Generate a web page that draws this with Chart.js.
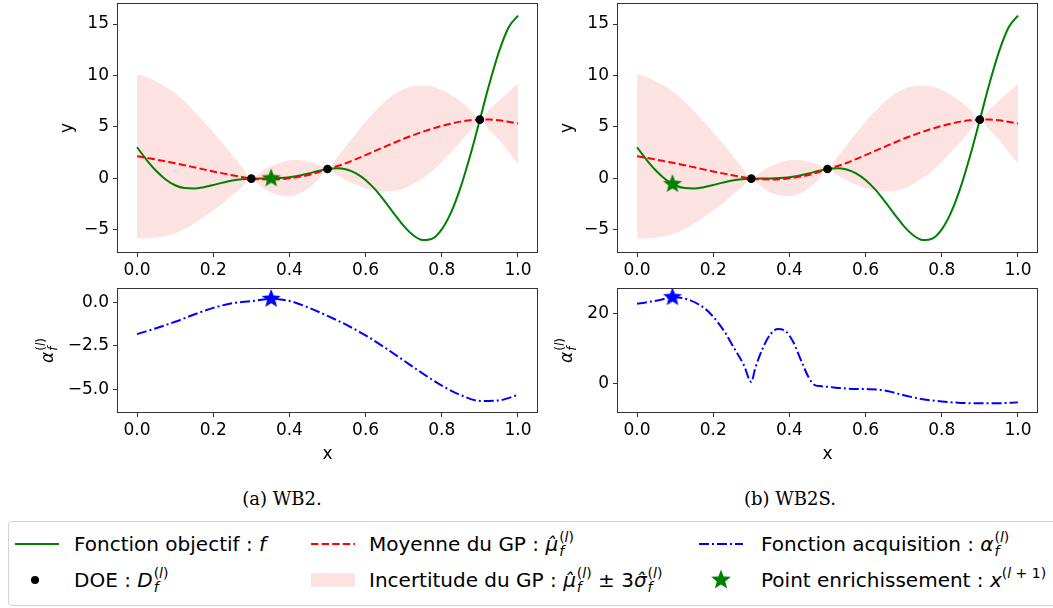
<!DOCTYPE html>
<html>
<head>
<meta charset="utf-8">
<script src="https://cdn.jsdelivr.net/npm/chart.js@4.4.1/dist/chart.umd.min.js"></script>
<style>
body { margin:0; width:1053px; height:608px; background:#fff; position:relative; overflow:hidden; font-family:"DejaVu Sans"; }
canvas { position:absolute; }
.cap { position:absolute; top:490px; font-family:"DejaVu Serif"; font-size:18px; line-height:1; transform:translateX(-50%); white-space:nowrap; }
#legendBox { position:absolute; left:8px; top:521px; width:1070px; height:85px; border:1px solid #d3d3d3; border-radius:4px; box-sizing:border-box; }
.it { position:absolute; font-size:20px; line-height:20px; white-space:nowrap; }
.smp { position:absolute; }
.ss { display:inline-block; font-size:14px; line-height:14px; vertical-align:-5px; margin-left:1px; margin-top:-14px; }
.ss > span { display:block; }
.sp { font-size:14px; position:relative; top:-9px; }
</style>
</head>
<body>
<canvas id="tl" width="545" height="285" style="left:0;top:0"></canvas>
<canvas id="tr" width="545" height="285" style="left:500px;top:0"></canvas>
<canvas id="bl" width="545" height="185" style="left:0;top:285px"></canvas>
<canvas id="br" width="545" height="185" style="left:500px;top:285px"></canvas>

<div class="cap" style="left:282px">(a) WB2.</div>
<div class="cap" style="left:790px">(b) WB2S.</div>

<div id="legendBox"></div>
<svg class="smp" style="left:15px;top:536px" width="44" height="16"><line x1="0" y1="8" x2="44" y2="8" stroke="#008000" stroke-width="2"/></svg>
<div class="it" style="left:74px;top:534px">Fonction objectif : <i>f</i></div>
<svg class="smp" style="left:15px;top:572px" width="44" height="16"><circle cx="20" cy="8" r="4" fill="#000"/></svg>
<div class="it" style="left:74px;top:570px">DOE : <i>D</i><span class="ss"><span>(<i>l</i>)</span><span><i>f</i></span></span></div>

<svg class="smp" style="left:311px;top:536px" width="44" height="16"><line x1="0" y1="8" x2="44" y2="8" stroke="#ff0000" stroke-width="2" stroke-dasharray="7.4 3.2"/></svg>
<div class="it" style="left:369px;top:534px">Moyenne du GP : <i>μ̂</i><span class="ss"><span>(<i>l</i>)</span><span><i>f</i></span></span></div>
<svg class="smp" style="left:311px;top:572px" width="44" height="16"><rect x="0" y="1" width="44" height="14" fill="#fde2e2"/></svg>
<div class="it" style="left:369px;top:570px">Incertitude du GP : <i>μ̂</i><span class="ss"><span>(<i>l</i>)</span><span><i>f</i></span></span> ± 3<i>σ̂</i><span class="ss"><span>(<i>l</i>)</span><span><i>f</i></span></span></div>

<svg class="smp" style="left:699px;top:536px" width="44" height="16"><line x1="0" y1="8" x2="44" y2="8" stroke="#0000ff" stroke-width="2" stroke-dasharray="10 3 2 3"/></svg>
<div class="it" style="left:761px;top:534px">Fonction acquisition : <i>α</i><span class="ss"><span>(<i>l</i>)</span><span><i>f</i></span></span></div>
<svg class="smp" style="left:710px;top:569px" width="22" height="22"><polygon fill="#008000" points="11,0.5 13.6,7.4 20.9,7.8 15.2,12.4 17.2,19.5 11,15.4 4.8,19.5 6.8,12.4 1.1,7.8 8.4,7.4"/></svg>
<div class="it" style="left:761px;top:570px">Point enrichissement : <i>x</i><span class="sp">(<i>l</i> + 1)</span></div>

<script>
// abscisses communes
var xGrid = [0, 0.025, 0.05, 0.075, 0.1, 0.125, 0.15, 0.175, 0.2, 0.225, 0.25, 0.275, 0.3, 0.325, 0.35, 0.375, 0.4,
    0.425, 0.45, 0.475, 0.5, 0.525, 0.55, 0.575, 0.6, 0.625, 0.65, 0.675, 0.7, 0.725, 0.75, 0.775, 0.8, 0.825,
    0.85, 0.875, 0.9, 0.925, 0.95, 0.975, 1.0];

// fonction objectif f
var fVals = [3.03, 1.81, 0.74, -0.10, -0.66, -0.94, -0.98, -0.85, -0.64, -0.41, -0.21, -0.08, -0.02, 0.0, 0.0, 0.03,
    0.12, 0.27, 0.48, 0.72, 0.91, 0.99, 0.87, 0.50, -0.15, -1.07, -2.21, -3.44, -4.61, -5.52, -5.99, -5.85, -4.95,
    -3.25, -0.80, 2.27, 5.71, 9.19, 12.30, 14.65, 15.83];

// moyenne du GP
var meanVals = [2.15, 2.0, 1.83, 1.65, 1.47, 1.28, 1.08, 0.88, 0.68, 0.49, 0.31, 0.14, -0.02, -0.08, -0.1, -0.07,
    0.02, 0.15, 0.33, 0.6, 0.91, 1.18, 1.5, 1.88, 2.27, 2.67, 3.07, 3.47, 3.85, 4.2, 4.53, 4.83, 5.1, 5.33, 5.52,
    5.65, 5.71, 5.72, 5.65, 5.5, 5.33];

// bornes de l'incertitude (+/- 3 sigma)
var upperVals = [10.15, 9.85, 9.43, 8.9, 8.27, 7.48, 6.53, 5.53, 4.48, 3.39, 2.26, 1.12, -0.02, 0.62, 1.15, 1.53,
    1.77, 1.8, 1.63, 1.35, 0.91, 2.03, 3.2, 4.38, 5.52, 6.52, 7.42, 8.17, 8.7, 8.95, 9.03, 8.93, 8.6, 8.08, 7.47,
    6.65, 5.71, 6.7, 7.55, 8.4, 9.2];
var lowerVals = [-5.85, -5.85, -5.77, -5.6, -5.33, -4.92, -4.37, -3.77, -3.12, -2.41, -1.64, -0.84, -0.02, -0.78,
    -1.35, -1.67, -1.73, -1.5, -0.97, -0.15, 0.91, 0.33, -0.2, -0.62, -0.98, -1.18, -1.28, -1.23, -1.0, -0.55, 0.03,
    0.73, 1.6, 2.58, 3.57, 4.65, 5.71, 4.74, 3.75, 2.6, 1.45];

// DOE
var doeX = [0.3, 0.5, 0.9];
var doeY = [-0.02, 0.91, 5.71];

// acquisition WB2
var acqX = [0, 0.05, 0.1, 0.15, 0.2, 0.25, 0.3, 0.35, 0.4, 0.45, 0.5, 0.55, 0.6, 0.65, 0.7, 0.75, 0.8, 0.85, 0.9, 0.95, 1.0];
var acqWB2 = [-1.83, -1.49, -1.12, -0.7, -0.32, -0.05, 0.07, 0.2, 0.08, -0.3, -0.78, -1.3, -1.9, -2.6, -3.35, -4.1,
    -4.8, -5.35, -5.68, -5.65, -5.34];

// acquisition WB2S
var acqSX = [0, 0.03, 0.06, 0.094, 0.14, 0.18, 0.2, 0.23, 0.255, 0.28, 0.3, 0.31, 0.33, 0.35, 0.37, 0.39, 0.41,
    0.43, 0.45, 0.465, 0.48, 0.5, 0.55, 0.6, 0.63, 0.66, 0.7, 0.75, 0.8, 0.85, 0.9, 0.95, 1.0];
var acqWB2S = [22.7, 23.2, 23.8, 24.6, 23.7, 21.2, 19.0, 14.7, 10.0, 5.3, 0.4, 4.2, 10.0, 14.0, 15.5, 14.9, 11.8,
    6.7, 1.8, -0.4, -0.8, -1.0, -1.5, -1.65, -1.75, -2.3, -3.4, -4.55, -5.2, -5.6, -5.72, -5.7, -5.45];

// points d'enrichissement
var starWB2 = { x: 0.352, y: 0.0, acq: 0.2 };
var starWB2S = { x: 0.093, y: -0.55, acq: 24.6 };

// ticks
var xTicks = [0, 0.2, 0.4, 0.6, 0.8, 1.0];
var yTicksTop = [-5, 0, 5, 10, 15];
var yTicksWB2 = [-5, -2.5, 0];
var yTicksWB2S = [0, 20];

function pts(xs, ys) {
    return xs.map(function (x, i) { return { x: x, y: ys[i] }; });
}

function makeStar(color, r) {
    var c = document.createElement('canvas');
    c.width = c.height = Math.ceil(r * 2) + 2;
    var g = c.getContext('2d'), m = c.width / 2, ri = r * 0.43;
    g.beginPath();
    for (var i = 0; i < 10; i++) {
        var rr = i % 2 ? ri : r;
        var a = -Math.PI / 2 + i * Math.PI / 5;
        g.lineTo(m + rr * Math.cos(a), m + rr * Math.sin(a));
    }
    g.closePath();
    g.fillStyle = color;
    g.fill();
    return c;
}

function minus(s) { return String(s).replace('-', '\u2212'); }

var TICK_FONT = { family: 'DejaVu Sans', size: 17 };

// cadre + titres des axes
var framePlugin = {
    id: 'frame',
    afterDraw: function (chart, args, opts) {
        var ctx = chart.ctx, a = chart.chartArea;
        ctx.save();
        ctx.strokeStyle = '#333';
        ctx.lineWidth = 1;
        ctx.strokeRect(Math.round(a.left) - 0.5, Math.round(a.top) - 0.5, Math.round(a.right - a.left) + 1, Math.round(a.bottom - a.top) + 1);
        ctx.fillStyle = '#000';
        ctx.textBaseline = 'alphabetic';
        if (opts.xLabel) {
            ctx.font = '17px "DejaVu Sans"';
            ctx.textAlign = 'center';
            ctx.fillText(opts.xLabel, (a.left + a.right) / 2, a.bottom + 47);
        }
        ctx.translate(a.left - opts.yDx, (a.top + a.bottom) / 2);
        ctx.rotate(-Math.PI / 2);
        ctx.textAlign = 'left';
        if (opts.yLabel === 'alpha') {
            ctx.font = 'italic 17px "DejaVu Sans"';
            var wA = ctx.measureText('α').width;
            ctx.font = '12px "DejaVu Sans"';
            var wP = ctx.measureText('(').width;
            ctx.font = 'italic 12px "DejaVu Sans"';
            var wL = ctx.measureText('l').width;
            var x0 = -(wA + 2 * wP + wL + 1) / 2;
            ctx.font = 'italic 17px "DejaVu Sans"';
            ctx.fillText('α', x0, 0);
            ctx.font = 'italic 12px "DejaVu Sans"';
            ctx.fillText('f', x0 + wA + 1, 4);
            ctx.fillText('l', x0 + wA + 1 + wP, -8);
            ctx.font = '12px "DejaVu Sans"';
            ctx.fillText('(', x0 + wA + 1, -8);
            ctx.fillText(')', x0 + wA + 1 + wP + wL, -8);
        } else {
            ctx.font = '17px "DejaVu Sans"';
            ctx.textAlign = 'center';
            ctx.fillText(opts.yLabel, 0, 0);
        }
        ctx.restore();
    }
};

function xScale(h) {
    return {
        type: 'linear', min: -0.05, max: 1.05,
        afterBuildTicks: function (s) { s.ticks = xTicks.map(function (v) { return { value: v }; }); },
        afterFit: function (s) { s.height = h; s.paddingLeft = 0; s.paddingRight = 0; },
        grid: { drawOnChartArea: false, drawTicks: true, tickLength: 5, color: '#333', lineWidth: 1 },
        border: { display: false },
        ticks: { font: TICK_FONT, color: '#000', padding: 3, maxRotation: 0, autoSkip: false,
            callback: function (v) { return v.toFixed(1); } }
    };
}

function yScale(min, max, ticks, fmt) {
    return {
        type: 'linear', min: min, max: max,
        afterBuildTicks: function (s) { s.ticks = ticks.map(function (v) { return { value: v }; }); },
        afterFit: function (s) { s.width = 118; s.paddingTop = 0; s.paddingBottom = 0; },
        grid: { drawOnChartArea: false, drawTicks: true, tickLength: 5, color: '#333', lineWidth: 1 },
        border: { display: false },
        ticks: { font: TICK_FONT, color: '#000', padding: 4, autoSkip: false, callback: fmt }
    };
}

function baseOptions(xh, ys, frame) {
    return {
        responsive: false, animation: false, events: [],
        layout: { padding: { left: 0, right: 8, top: 4, bottom: 0 }, autoPadding: false },
        scales: { x: xScale(xh), y: ys },
        plugins: { legend: { display: false }, tooltip: { enabled: false }, frame: frame }
    };
}

function topChart(id, star) {
    new Chart(document.getElementById(id), {
        type: 'line',
        data: {
            datasets: [
                { data: [{ x: star.x, y: star.y }], showLine: false, pointStyle: makeStar('#008000', 10), pointRadius: 10 },
                { data: pts(doeX, doeY), showLine: false, pointRadius: 4.3, pointBackgroundColor: '#000', pointBorderWidth: 0 },
                { data: pts(xGrid, meanVals), borderColor: '#ff0000', borderWidth: 2, borderDash: [7.4, 3.2], pointRadius: 0, cubicInterpolationMode: 'monotone' },
                { data: pts(xGrid, fVals), borderColor: '#008000', borderWidth: 2, pointRadius: 0, cubicInterpolationMode: 'monotone' },
                { data: pts(xGrid, upperVals), borderWidth: 0, borderColor: 'rgba(0,0,0,0)', pointRadius: 0, fill: '+1', backgroundColor: '#fde2e2', cubicInterpolationMode: 'monotone' },
                { data: pts(xGrid, lowerVals), borderWidth: 0, borderColor: 'rgba(0,0,0,0)', pointRadius: 0, fill: false, cubicInterpolationMode: 'monotone' }
            ]
        },
        options: baseOptions(33, yScale(-7.15, 16.95, yTicksTop, function (v) { return minus(v); }), { yLabel: 'y', yDx: 46 }),
        plugins: [framePlugin]
    });
}

function bottomChart(id, xs, ys, star, min, max, ticks, fmt, dx) {
    new Chart(document.getElementById(id), {
        type: 'line',
        data: {
            datasets: [
                { data: [{ x: star.x, y: star.acq }], showLine: false, pointStyle: makeStar('#0000ff', 10), pointRadius: 10 },
                { data: pts(xs, ys), borderColor: '#0000ff', borderWidth: 2, borderDash: [10, 3, 2, 3], pointRadius: 0, cubicInterpolationMode: 'monotone' }
            ]
        },
        options: baseOptions(58, yScale(min, max, ticks, fmt), { yLabel: 'alpha', yDx: dx, xLabel: 'x' }),
        plugins: [framePlugin]
    });
}

topChart('tl', starWB2);
topChart('tr', starWB2S);
bottomChart('bl', acqX, acqWB2, starWB2, -6.32, 0.77, yTicksWB2, function (v) { return minus(v.toFixed(1)); }, 65);
bottomChart('br', acqSX, acqWB2S, starWB2S, -8.2, 26.94, yTicksWB2S, function (v) { return minus(v); }, 46);
</script>
</body>
</html>
